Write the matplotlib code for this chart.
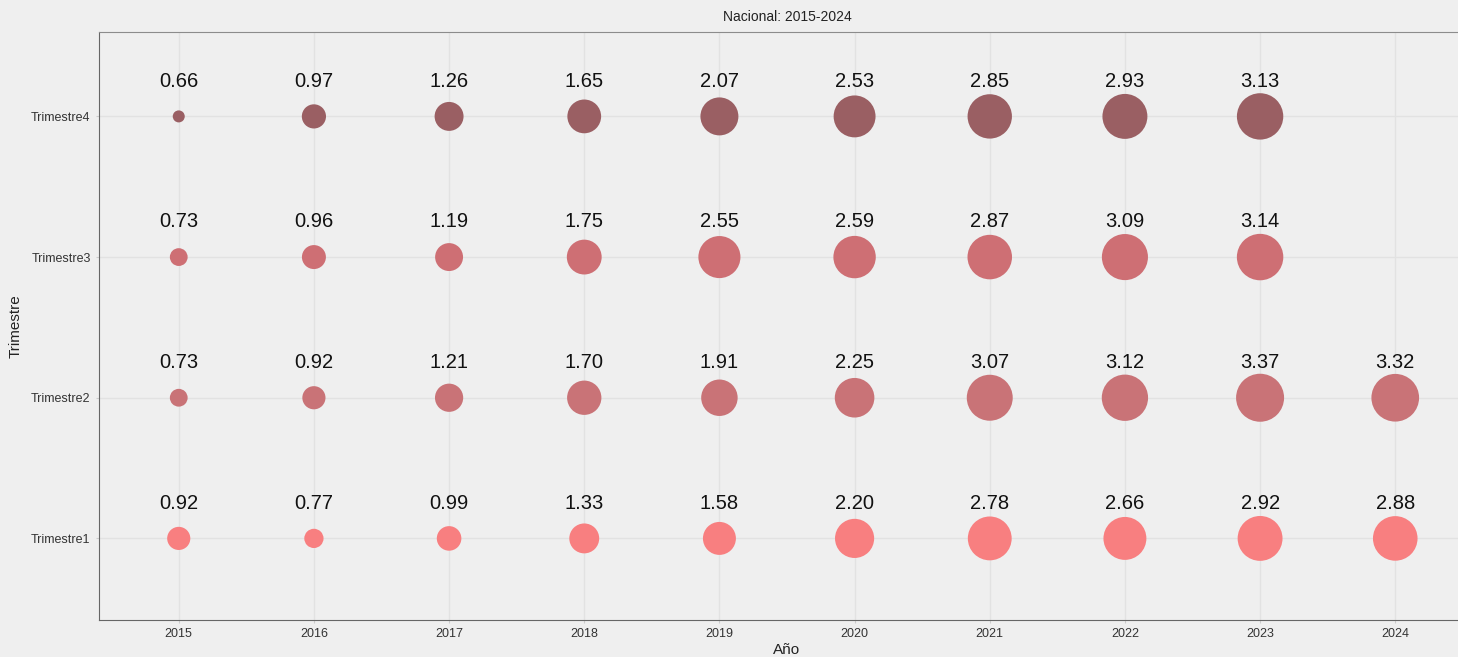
import numpy as np
import matplotlib.pyplot as plt

years = [2015, 2016, 2017, 2018, 2019, 2020, 2021, 2022, 2023, 2024]
trimestres = ['Trimestre1', 'Trimestre2', 'Trimestre3', 'Trimestre4']
t1 = [0.92, 0.77, 0.99, 1.33, 1.58, 2.20, 2.78, 2.66, 2.92, 2.88]
t2 = [0.73, 0.92, 1.21, 1.70, 1.91, 2.25, 3.07, 3.12, 3.37, 3.32]
t3 = [0.73, 0.96, 1.19, 1.75, 2.55, 2.59, 2.87, 3.09, 3.14, None]
t4 = [0.66, 0.97, 1.26, 1.65, 2.07, 2.53, 2.85, 2.93, 3.13, None]
colores = ['#F87F80', '#C97377', '#CE6F74', '#9A5F63']

plt.rcParams['font.family'] = ['Liberation Sans', 'DejaVu Sans']
bg = '#EFEFEF'
fig = plt.figure(figsize=(14.58, 6.57), dpi=100, facecolor=bg)
ax = fig.add_axes([99 / 1458, 1 - 620 / 657, (1475 - 99) / 1458, (620 - 32) / 657])
ax.set_facecolor(bg)

series = [t1, t2, t3, t4]
allv = [v for s in series for v in s if v is not None]
vmin, vmax = min(allv), max(allv)

for i, (s, c) in enumerate(zip(series, colores)):
    xs = [y for y, v in zip(years, s) if v is not None]
    vs = np.array([v for v in s if v is not None])
    d = 12 + 36 * np.sqrt((vs - vmin) / (vmax - vmin))  # diametro en px
    ax.scatter(xs, [i + 1] * len(xs), s=(d * 0.72) ** 2, color=c, edgecolors='none', zorder=3)
    for x, v in zip(xs, vs):
        ax.text(x, i + 1 + 0.25, f'{v:.2f}', ha='center', va='center', fontsize=14.5,
                color='#111111', zorder=4)

ax.set_xlim(2014.41, 2024.59)
ax.set_ylim(0.42, 4.6)
ax.set_xticks(years)
ax.set_xticklabels([str(y) for y in years])
ax.set_yticks([1, 2, 3, 4])
ax.set_yticklabels(trimestres)
ax.tick_params(axis='both', length=2, color='#CCCCCC', labelsize=9, labelcolor='#333333')
ax.tick_params(axis='x', pad=4)
ax.tick_params(axis='y', pad=4)
ax.grid(True, color='#E2E2E2', linewidth=1, zorder=0)
ax.set_axisbelow(True)
ax.spines['left'].set_color('#666666')
ax.spines['bottom'].set_color('#666666')
ax.spines['top'].set_color('#8C8C8C')
ax.spines['right'].set_visible(False)
ax.set_title('Nacional: 2015-2024', fontsize=10, color='#222222', pad=8)
ax.set_xlabel('Año', fontsize=11, color='#222222', labelpad=2)
ax.set_ylabel('Trimestre', fontsize=11, color='#222222', labelpad=6)

fig.savefig('out.png', dpi=100, facecolor=bg)
